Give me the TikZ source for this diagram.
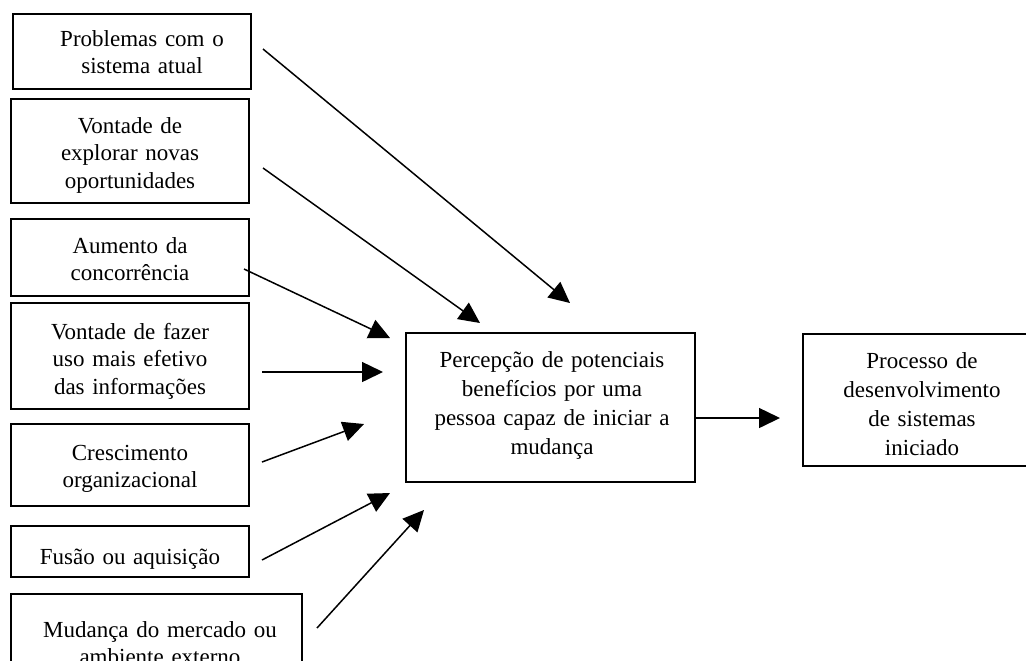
\documentclass[tikz,border=0pt]{standalone}
\usepackage{fontspec}
\setmainfont{Liberation Serif}[WordSpace=0.7]
\usetikzlibrary{arrows.meta}
\begin{document}
\begin{tikzpicture}[x=0.5pt,y=-0.5pt,
  box/.style={draw, line width=1pt, inner sep=0pt, rectangle},
  txtl/.style={anchor=base, inner sep=0pt, text width=150pt, align=center,
    font=\fontsize{11.5}{13.75}\selectfont},
  txtc/.style={anchor=base, inner sep=0pt, text width=150pt, align=center,
    font=\fontsize{11.5}{14.5}\selectfont},
  arr/.style={line width=0.75pt, -{Triangle[length=10.5pt,width=10pt]}}]
\useasboundingbox (0,0) rectangle (1026,660);
\clip (0,0) rectangle (1026,660);
% boxes
\node[box, minimum width=119pt, minimum height=37.5pt] (b1) at (132,51.5) {};
\node[box, minimum width=119pt, minimum height=52pt] (b2) at (130,151) {};
\node[box, minimum width=119pt, minimum height=38.5pt] (b3) at (130,257.5) {};
\node[box, minimum width=119pt, minimum height=53pt] (b4) at (130,356) {};
\node[box, minimum width=119pt, minimum height=41pt] (b5) at (130,465) {};
\node[box, minimum width=119pt, minimum height=25.5pt] (b6) at (130,551.5) {};
\node[box, minimum width=145.5pt, minimum height=53pt] (b7) at (156.5,647) {};
\node[box, minimum width=144.5pt, minimum height=74.5pt] (c) at (550.5,407.5) {};
\node[box, minimum width=119pt, minimum height=66pt] (r) at (922,400) {};
% texts
\node[txtl] (t1) at (142,46) {Problemas com o\\sistema atual};
\node[txtl] (t2) at (130,133) {Vontade de\\explorar novas\\oportunidades};
\node[txtl] (t3) at (130,253) {Aumento da\\concorrência};
\node[txtl] (t4) at (130,339) {Vontade de fazer\\uso mais efetivo\\das informações};
\node[txtl] (t5) at (130,460) {Crescimento\\organizacional};
\node[txtl] (t6) at (130,564) {Fusão ou aquisição};
\node[txtl] (t7) at (160,637) {Mudança do mercado ou\\ambiente externo};
\node[txtc] (tc) at (552,367) {Percepção de potenciais\\benefícios por uma\\pessoa capaz de iniciar a\\mudança};
\node[txtc] (tr) at (922,368) {Processo de\\desenvolvimento\\de sistemas\\iniciado};
% arrow ends
\coordinate (s1) at (263,49);  \coordinate (e1) at (570,303);
\coordinate (s2) at (263,168); \coordinate (e2) at (480,323);
\coordinate (s3) at (244,269); \coordinate (e3) at (390,338);
\coordinate (s4) at (262,372); \coordinate (e4) at (383,372);
\coordinate (s5) at (262,462); \coordinate (e5) at (364,424);
\coordinate (s6) at (262,560); \coordinate (e6) at (390,493);
\coordinate (s7) at (317,628); \coordinate (e7) at (424,510);
\coordinate (e8) at (780,418);
\draw[arr] (s1) -- (e1);
\draw[arr] (s2) -- (e2);
\draw[arr] (s3) -- (e3);
\draw[arr] (s4) -- (e4);
\draw[arr] (s5) -- (e5);
\draw[arr] (s6) -- (e6);
\draw[arr] (s7) -- (e7);
\draw[arr] (c.east |- e8) -- (e8);
\end{tikzpicture}
\end{document}
